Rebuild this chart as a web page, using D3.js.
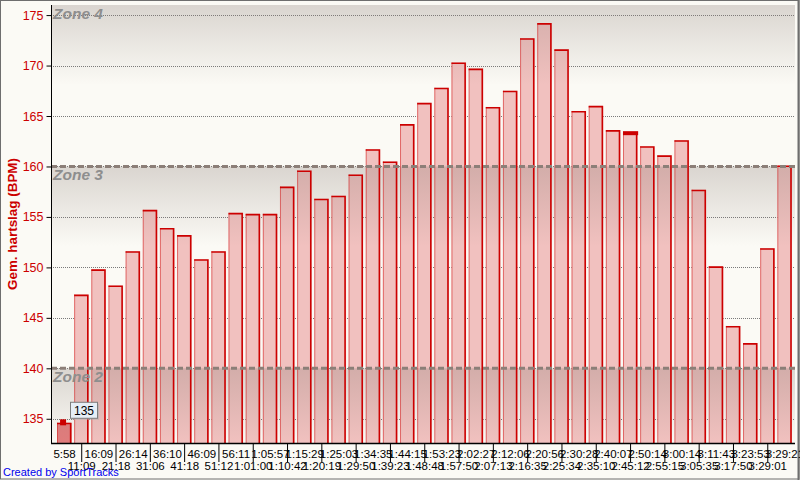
<!DOCTYPE html>
<html><head><meta charset="utf-8">
<script src="https://cdn.jsdelivr.net/npm/d3@7"></script>
<style>
html,body{margin:0;padding:0;background:#fbfaf5;}
svg{display:block;}
</style></head>
<body>
<script>
// ---- data ----
const topLabels = ["5:58","16:09","26:14","36:10","46:09","56:11","1:05:57","1:15:29","1:25:03","1:34:35","1:44:15","1:53:23","2:02:27","2:12:06","2:20:56","2:30:28","2:40:07","2:50:14","3:00:14","3:11:43","3:23:53","3:29:21"];
const bottomLabels = ["11:09","21:18","31:06","41:18","51:12","1:01:00","1:10:42","1:20:19","1:29:50","1:39:23","1:48:48","1:57:50","2:07:13","2:16:35","2:25:34","2:35:10","2:45:12","2:55:15","3:05:35","3:17:50","3:29:01"];
const heartRate = [134.6,147.3,149.8,148.2,151.6,155.7,153.9,153.2,150.8,151.6,155.4,155.3,155.3,158.0,159.6,156.8,157.1,159.2,161.7,160.5,164.2,166.3,167.8,170.3,169.7,165.9,167.5,172.7,174.2,171.6,165.5,166.0,163.6,163.3,162.0,161.1,162.6,157.7,150.1,144.2,142.5,151.9,160.1];
const yTicks = [135,140,145,150,155,160,165,170,175];
const zoneNames = ["Zone 4","Zone 3","Zone 2"];
const zoneTops = [176,160,140];
const zoneBottoms = [160,140,132.6];
const selectedIndex = 0;
const markedIndex = 33;
const tooltipText = "135";

// interleave category labels (time stamps)
const categories = heartRate.map((d,i)=> i%2===0 ? topLabels[i/2] : bottomLabels[(i-1)/2]);

const W=800,H=480;
const svg=d3.select("body").append("svg").attr("width",W).attr("height",H);
const defs=svg.append("defs");

const plotL=51, plotR=795, plotT=5, plotB=443;
const y=d3.scaleLinear().domain([132.6,176]).range([plotB,plotT]);
const x=d3.scaleBand().domain(d3.range(heartRate.length)).range([56,793.5]).padding(0);

// frame
svg.append("rect").attr("x",0.5).attr("y",0.5).attr("width",W-1.5).attr("height",H-1.5)
  .attr("fill","#fbfaf5").attr("stroke","#6e6e6e").attr("stroke-width",1);
svg.append("line").attr("x1",798.5).attr("x2",798.5).attr("y1",0).attr("y2",H).attr("stroke","#6e6e6e").attr("stroke-width",2);

const clip=defs.append("clipPath").attr("id","plotclip");
clip.append("rect").attr("x",plotL).attr("y",plotT).attr("width",plotR-plotL).attr("height",plotB-plotT);

const plot=svg.append("g").attr("clip-path","url(#plotclip)");

// gridlines
plot.selectAll("line.grid").data(yTicks).join("line").attr("class","grid")
  .attr("x1",plotL).attr("x2",plotR)
  .attr("y1",d=>Math.round(y(d))+0.5).attr("y2",d=>Math.round(y(d))+0.5)
  .attr("stroke","#7a7a7a").attr("stroke-width",1).attr("stroke-dasharray","1,1");

// bar fills
const barW = x.bandwidth()-2.5;
plot.selectAll("rect.bar").data(heartRate).join("rect").attr("class","bar")
  .attr("x",(d,i)=>x(i)+1).attr("width",barW)
  .attr("y",d=>y(d)).attr("height",d=>plotB-y(d))
  .attr("fill",(d,i)=> i===selectedIndex ? "#e07c7c" : "#f1c1bf");

// zone overlays
const grad=defs.append("linearGradient").attr("id","zg").attr("x1",0).attr("y1",0).attr("x2",0).attr("y2",1);
grad.append("stop").attr("offset","0%").attr("stop-color","#8c7f78").attr("stop-opacity",0.30);
grad.append("stop").attr("offset","100%").attr("stop-color","#8c7f78").attr("stop-opacity",0);
plot.selectAll("rect.zone").data(zoneTops).join("rect").attr("class","zone")
  .attr("x",plotL).attr("width",plotR-plotL)
  .attr("y",d=>y(d))
  .attr("height",(d,i)=>Math.min(y(zoneBottoms[i])-y(d), i===2 ? 110 : 80))
  .attr("fill","url(#zg)");

// bar outlines: thin left edge, strong top + right
plot.selectAll("line.ledge").data(heartRate).join("line").attr("class","ledge")
  .attr("x1",(d,i)=>x(i)+1.5).attr("x2",(d,i)=>x(i)+1.5)
  .attr("y1",d=>y(d)).attr("y2",plotB)
  .attr("stroke","#d42020").attr("stroke-width",1).attr("opacity",0.55);
plot.selectAll("path.outline").data(heartRate).join("path").attr("class","outline")
  .attr("d",(d,i)=>{const x0=x(i)+1, x1=x(i)+barW, yt=y(d)+0.75; return `M${x0},${yt}H${x1}V${plotB}`;})
  .attr("fill","none").attr("stroke","#cc0000").attr("stroke-width",1.6);

// zone boundary lines
plot.selectAll("line.zb").data(zoneTops.slice(1)).join("line").attr("class","zb")
  .attr("x1",plotL).attr("x2",plotR)
  .attr("y1",d=>y(d)).attr("y2",d=>y(d))
  .attr("stroke","#8c7f78").attr("stroke-width",3).attr("stroke-dasharray","6,3");

// zone labels
plot.selectAll("text.zl").data(zoneNames).join("text").attr("class","zl")
  .attr("x",53).attr("y",(d,i)=>y(zoneTops[i])+14)
  .attr("font-family","Liberation Sans, Arial, sans-serif").attr("font-size",15.5)
  .attr("font-weight","bold").attr("font-style","italic").attr("fill","#8e8e8e")
  .text(d=>d);

// markers
plot.append("rect").attr("x",x(markedIndex)+1).attr("width",barW+0.5)
  .attr("y",y(heartRate[markedIndex])-2).attr("height",4).attr("fill","#cc0000");
plot.append("rect").attr("x",x(selectedIndex)+x.bandwidth()/2-4.5).attr("width",6)
  .attr("y",y(heartRate[selectedIndex])-3.5).attr("height",6).attr("fill","#cc0000");

// tooltip
const tip=svg.append("g").attr("transform",`translate(70,${y(135)-17})`);
tip.append("rect").attr("x",2).attr("y",2).attr("width",27).attr("height",16).attr("fill","#b0b0b0").attr("opacity",0.6);
tip.append("rect").attr("x",0.5).attr("y",0.5).attr("width",27).attr("height",16).attr("fill","#e6eef6").attr("stroke","#7d7d7d");
tip.append("text").attr("x",14).attr("y",13).attr("text-anchor","middle")
  .attr("font-family","Liberation Sans, Arial, sans-serif").attr("font-size",12).attr("fill","#000").text(tooltipText);

// y axis
const yAxis=d3.axisLeft(y).tickValues(yTicks).tickSize(5).tickPadding(3);
const gy=svg.append("g").attr("transform",`translate(${plotL+0.5},0)`).call(yAxis);
gy.select(".domain").attr("stroke","#000").attr("d",`M0,${plotT}V${plotB}`);
gy.selectAll(".tick line").attr("stroke","#000");
gy.selectAll(".tick text").attr("fill","#cc0000").attr("font-size",12.5)
  .attr("font-family","Liberation Sans Narrow, Liberation Sans, Arial, sans-serif");

// y title
svg.append("text").attr("transform",`translate(17,${224}) rotate(-90)`)
  .attr("text-anchor","middle").attr("font-family","Liberation Sans, Arial, sans-serif")
  .attr("font-size",13.5).attr("font-weight","bold").attr("fill","#cc0000")
  .attr("textLength",132).attr("lengthAdjust","spacingAndGlyphs")
  .text("Gem. hartslag (BPM)");

// x axis
const xAxis=d3.axisBottom(x).tickFormat(i=>categories[i]).tickSize(0).tickPadding(0);
const gx=svg.append("g").attr("transform",`translate(0,${plotB})`).call(xAxis);
gx.select(".domain").attr("stroke","#000").attr("stroke-width",1.5).attr("d",`M${plotL},0.5H${plotR}`);
gx.selectAll(".tick line").attr("stroke","#000").attr("y2",(d)=> d%2===1 ? 19 : 0);
gx.selectAll(".tick text").attr("fill","#000").attr("font-size",11.5)
  .attr("font-family","Liberation Sans Narrow, Liberation Sans, Arial, sans-serif")
  .attr("dy",null).attr("y",(d)=> d%2===0 ? 15 : 27);

// credit
svg.append("text").attr("x",3).attr("y",476).attr("font-family","Liberation Sans, Arial, sans-serif")
  .attr("font-size",11).attr("fill","#0000ee").text("Created by SportTracks");
</script>
</body></html>
